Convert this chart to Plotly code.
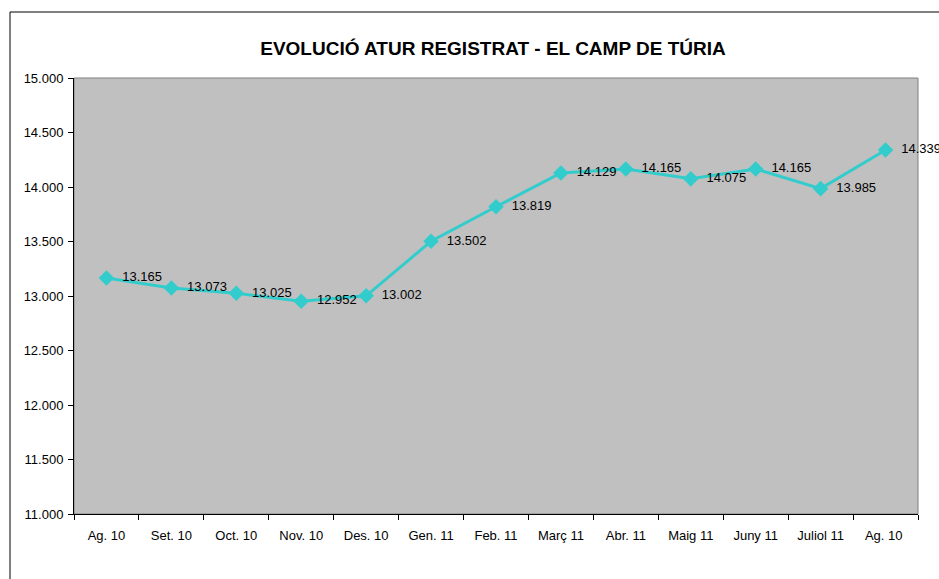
import plotly.graph_objects as go

# ── Dades ─────────────────────────────────────────────────────────────────────
MESOS = ["Ag. 10", "Set. 10", "Oct. 10", "Nov. 10", "Des. 10", "Gen. 11", "Feb. 11",
         "Març 11", "Abr. 11", "Maig 11", "Juny 11", "Juliol 11", "Ag. 10 "]
ATUR = [13165, 13073, 13025, 12952, 13002, 13502, 13819,
        14129, 14165, 14075, 14165, 13985, 14339]
ETIQUETES = [f"{v:,}".replace(",", ".") for v in ATUR]

# ── Geometria (px) ────────────────────────────────────────────────────────────
W, H = 939, 579
L, R, T, B = 74, 21, 78, 65
PW, PH = W - L - R, H - T - B

fig = go.Figure()

fig.add_trace(go.Scatter(
    x=MESOS, y=ATUR,
    mode="lines+markers+text",
    line=dict(color="#33CCCC", width=3),
    marker=dict(symbol="diamond", size=12, color="#33CCCC"),
    text=["  " + t for t in ETIQUETES],
    textposition="middle right",
    textfont=dict(family="Arial, Liberation Sans", size=13, color="black"),
    cliponaxis=False,
    showlegend=False,
))

# marc de l'àrea de traçat (gris) i marc exterior
fig.add_shape(type="rect", xref="paper", yref="paper", x0=0, x1=1, y0=0, y1=1,
              line=dict(color="#808080", width=1), layer="below")
fig.add_shape(type="rect", xref="paper", yref="paper",
              x0=(10 - L) / PW, x1=1.2, y0=-0.3, y1=1 + (T - 12) / PH,
              line=dict(color="black", width=1))

fig.update_layout(
    width=W, height=H,
    margin=dict(l=L, r=R, t=T, b=B),
    paper_bgcolor="white",
    plot_bgcolor="#C0C0C0",
    separators=",.",
    font=dict(family="Arial, Liberation Sans", size=13, color="black"),
    title=dict(
        text="<b>EVOLUCIÓ ATUR REGISTRAT - EL CAMP DE TÚRIA</b>",
        x=493 / W, xanchor="center",
        y=1 - 48 / H, yanchor="middle",
        font=dict(family="Arial, Liberation Sans", size=19, color="black"),
    ),
    xaxis=dict(
        type="category",
        showgrid=False,
        showline=True, linecolor="black", linewidth=1,
        ticks="outside", ticklen=5, tickcolor="black",
        tickson="boundaries",
        ticklabelstandoff=9,
        range=[-0.5, len(MESOS) - 0.5],
        tickfont=dict(size=13),
    ),
    yaxis=dict(
        range=[11000, 15000],
        dtick=500,
        tickformat=",d",
        showgrid=False,
        zeroline=False,
        showline=True, linecolor="black", linewidth=1,
        ticks="outside", ticklen=5, tickcolor="black",
        ticklabelstandoff=2,
        tickfont=dict(size=13),
    ),
)

# sense marge al body perquè la figura ocupi tota la finestra
fig.write_html("out.html", config={"displayModeBar": False},
               post_script="document.body.style.margin='0';")
